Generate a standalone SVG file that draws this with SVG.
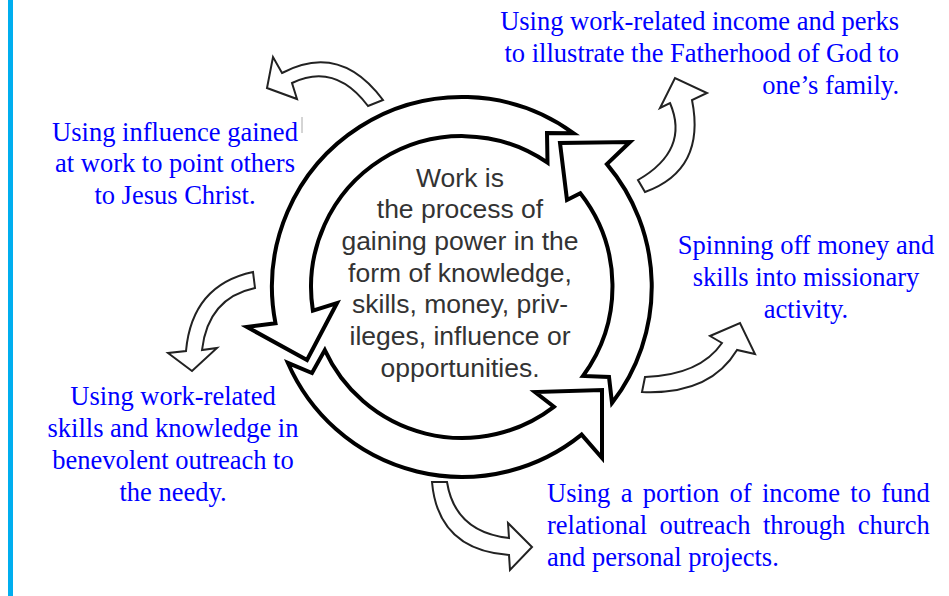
<svg xmlns="http://www.w3.org/2000/svg" width="949" height="596" viewBox="0 0 949 596">
<style>
.ring{fill:#fff;stroke:#000;stroke-width:4;stroke-linejoin:miter;stroke-miterlimit:10}
.sm{fill:#fff;stroke:#222;stroke-width:2;stroke-linejoin:miter;stroke-miterlimit:10}
.bl{font-family:"Liberation Serif","Times New Roman",serif;font-size:26.5px;fill:#0000ff}
.ct{font-family:"Liberation Sans",Arial,sans-serif;font-size:26.5px;fill:#333;text-anchor:middle}
</style>
<rect x="0" y="0" width="949" height="596" fill="#fff"/>
<rect x="8" y="0" width="5" height="596" fill="#00aeef"/>
<line x1="302" y1="117" x2="302" y2="133" stroke="#aaa" stroke-width="1"/>

<g id="cycle">
<g id="arrow-top"><path class="ring" d="M573.7,133.3 A190,190 0 0 0 275.5,323.3 L247,327 L307,360 L337,303 L312.9,310.6 A151,151 0 0 1 547.5,162.6 L547,133 Z"/></g>
<g id="arrow-bottom"><path class="ring" d="M287.8,362.8 A190,190 0 0 0 581.6,434.6 L602,458 L602,390 L535,392 L553.9,406.8 A151,151 0 0 1 324.8,350.1 L312,373 Z"/></g>
<g id="arrow-right"><path class="ring" d="M612,403 A190,190 0 0 0 606.9,164.1 L630,142 L560,143 L567,200 L580.3,193.2 A151,151 0 0 1 583,376 L609,377 Z"/></g>
</g>

<g id="center-text">
<text class="ct" x="460" y="187">Work is</text>
<text class="ct" x="460" y="218">the process of</text>
<text class="ct" x="460" y="250">gaining power in the</text>
<text class="ct" x="460" y="282">form of knowledge,</text>
<text class="ct" x="460" y="313">skills, money, priv-</text>
<text class="ct" x="460" y="345">ileges, influence or</text>
<text class="ct" x="460" y="377">opportunities.</text>
</g>

<g id="connectors">
<path class="sm" d="M383,100 Q340,42 282,73 L273,57 L267,88 L297,99 L292,83 Q335,62 368,106 Z"/>
<path class="sm" d="M638,180 Q690,150 670,103 L660,108 L675,78 L707,93 L692,100 Q706,170 645,192 Z"/>
<path class="sm" d="M645,377 Q700,375 722,343 L710,336 L740,323 L755,354 L737,350 Q710,395 642,392 Z"/>
<path class="sm" d="M447,482 Q455,532 509,538 L508,523 L532,547 L510,570 L509,555 Q438,550 432,482 Z"/>
<path class="sm" d="M253,272 Q192,285 186,351 L168,353 L192,371 L217,348 L202,350 Q208,298 255,288 Z"/>
</g>

<g id="label-family">
<text class="bl" x="899" y="30" text-anchor="end">Using work-related income and perks</text>
<text class="bl" x="899" y="62" text-anchor="end">to illustrate the Fatherhood of God to</text>
<text class="bl" x="899" y="94" text-anchor="end">one’s family.</text>
</g>
<g id="label-influence">
<text class="bl" x="175" y="141" text-anchor="middle">Using influence gained</text>
<text class="bl" x="175" y="172" text-anchor="middle">at work to point others</text>
<text class="bl" x="175" y="204" text-anchor="middle">to Jesus Christ.</text>
</g>
<g id="label-missionary">
<text class="bl" x="806" y="254" text-anchor="middle">Spinning off money and</text>
<text class="bl" x="806" y="286" text-anchor="middle">skills into missionary</text>
<text class="bl" x="806" y="318" text-anchor="middle">activity.</text>
</g>
<g id="label-benevolent">
<text class="bl" x="173" y="405" text-anchor="middle">Using work-related</text>
<text class="bl" x="173" y="437" text-anchor="middle">skills and knowledge in</text>
<text class="bl" x="173" y="469" text-anchor="middle">benevolent outreach to</text>
<text class="bl" x="173" y="501" text-anchor="middle">the needy.</text>
</g>
<g id="label-church">
<text class="bl" x="547" y="502" word-spacing="3.7">Using a portion of income to fund</text>
<text class="bl" x="547" y="534" word-spacing="5.7">relational outreach through church</text>
<text class="bl" x="547" y="566">and personal projects.</text>
</g>
</svg>
